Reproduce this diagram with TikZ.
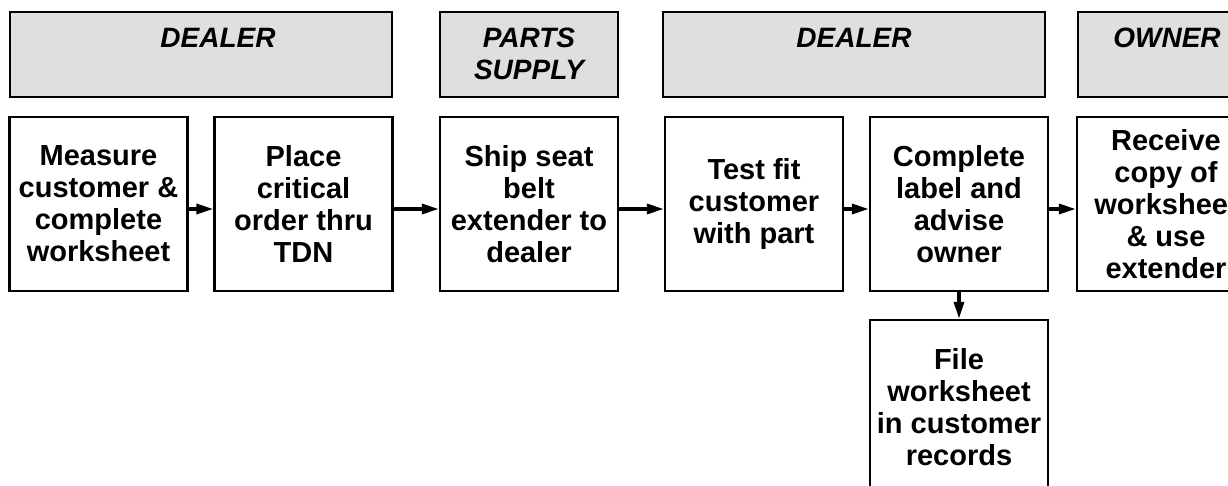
\documentclass[tikz,border=0pt]{standalone}
\usepackage{fontspec}
\setmainfont{Liberation Sans}
\usetikzlibrary{arrows.meta, positioning}

\tikzset{
  header/.style={draw, line width=1.2pt, fill=gray!25, minimum width=#1, minimum height=42.5pt, inner sep=0pt},
  hdrtext/.style={font=\fontsize{14}{16}\selectfont\bfseries\itshape, align=center, inner sep=0pt, anchor=north, yshift=-8.5pt},
  stepbox/.style={draw, line width=1.2pt, fill=white, minimum width=89pt, minimum height=87pt, inner sep=1pt, align=center, font=\fontsize{14.5}{16}\selectfont\bfseries},
  flow/.style={-{Triangle[length=8.5pt,width=5pt]}, line width=1.7pt}
}

\begin{document}
\begin{tikzpicture}[x=0.5pt, y=-0.5pt]
    \useasboundingbox (0,0) rectangle (1228,486);
    % Cabecalhos
    \node[header=191pt, label={[hdrtext, xshift=8.5pt]north:DEALER}] (hdrA) at (201,54.5) {};
    \node[header=89pt, label={[hdrtext]north:PARTS\\SUPPLY}] (hdrB) at (529,54.5) {};
    \node[header=191pt, label={[hdrtext]north:DEALER}] (hdrC) at (854,54.5) {};
    \node[header=89pt, label={[hdrtext]north:OWNER}] (hdrD) at (1167,54.5) {};
    % Etapas
    \node[stepbox] (measure) at (98.5,204) {Measure\\customer \&\\complete\\worksheet};
    \node[stepbox] (order) at (303.5,204) {Place\\critical\\order thru\\TDN};
    \node[stepbox] (ship) at (529,204) {Ship seat\\belt\\extender to\\dealer};
    \node[stepbox] (testfit) at (754,204) {Test fit\\customer\\with part};
    \node[stepbox] (label) at (959,204) {Complete\\label and\\advise\\owner};
    \node[stepbox] (receive) at (1166,204) {Receive\\copy of\\worksheet\\\& use\\extender};
    \node[stepbox] (file) at (959,407) {File\\worksheet\\in customer\\records};
    % Setas
    \draw[flow] ([yshift=-2.5pt]measure.east) -- ([yshift=-2.5pt]order.west);
    \draw[flow] ([yshift=-2.5pt]order.east) -- ([yshift=-2.5pt]ship.west);
    \draw[flow] ([yshift=-2.5pt]ship.east) -- ([yshift=-2.5pt]testfit.west);
    \draw[flow] ([yshift=-2.5pt]testfit.east) -- ([yshift=-2.5pt]label.west);
    \draw[flow] ([yshift=-2.5pt]label.east) -- ([yshift=-2.5pt]receive.west);
    \draw[flow] (label.south) -- (file.north);
\end{tikzpicture}
\end{document}
